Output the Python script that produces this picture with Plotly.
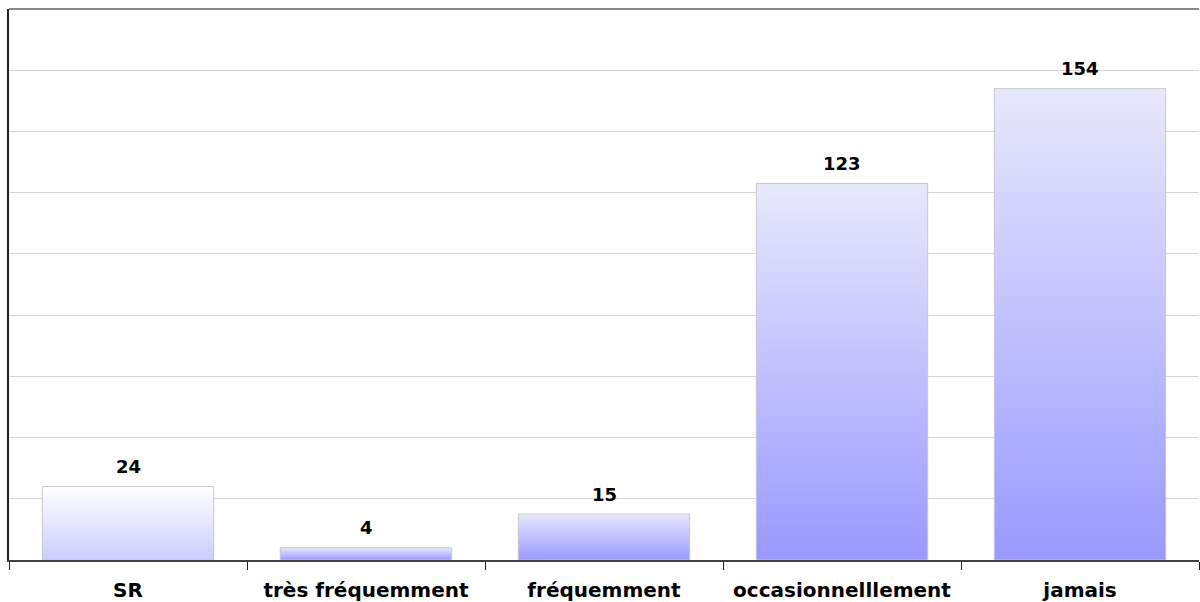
import plotly.graph_objects as go

categories = ["SR", "très fréquemment", "fréquemment", "occasionnelllement", "jamais"]
values = [24, 4, 15, 123, 154]
top_colors = ["#FFFFFF", "#E8E8FC", "#E8E8FC", "#E8E8FC", "#E8E8FC"]
bottom_colors = ["#CCCCFF", "#9999FF", "#9999FF", "#9999FF", "#9999FF"]

half_width = 0.36
FONT = "DejaVu Sans"

fig = go.Figure()
for i, (cat, v) in enumerate(zip(categories, values)):
    fig.add_trace(go.Scatter(
        x=[i - half_width, i - half_width, i + half_width, i + half_width, i - half_width],
        y=[0, v, v, 0, 0],
        mode="lines",
        fill="toself",
        fillgradient=dict(type="vertical",
                          colorscale=[[0, bottom_colors[i]], [1, top_colors[i]]],
                          start=0, stop=v),
        line=dict(color="#C8C8C8", width=1),
        name=cat,
        hoverinfo="skip",
        showlegend=False,
    ))
    fig.add_annotation(x=i, y=v, text=f"<b>{v}</b>", showarrow=False,
                       yshift=20, font=dict(family=FONT, size=18, color="black"))

fig.update_layout(
    width=1200, height=602,
    margin=dict(l=9, r=1, t=9, b=42),
    paper_bgcolor="white", plot_bgcolor="white",
    xaxis=dict(range=[-0.5, 4.5], tickmode="array", tickvals=list(range(len(categories))),
               ticktext=[f"<b>{c}</b>" for c in categories], ticks="", showgrid=False,
               zeroline=False, showline=True, linecolor="#404040", linewidth=2,
               tickfont=dict(family=FONT, size=20, color="black"),
               ticklabelstandoff=11,
               minor=dict(tickmode="array", tickvals=[-0.5, 0.5, 1.5, 2.5, 3.5, 4.5],
                          ticks="outside", ticklen=8, tickcolor="#202020", tickwidth=1,
                          showgrid=False),
               fixedrange=True),
    yaxis=dict(range=[0, 180], dtick=20, showticklabels=False, ticks="",
               showgrid=True, gridcolor="#D4D4D4", gridwidth=1, zeroline=False,
               showline=True, linecolor="#202020", linewidth=2, fixedrange=True),
)
fig.add_shape(type="line", xref="paper", yref="paper", x0=0, x1=1, y0=1, y1=1,
              line=dict(color="#888888", width=2))

fig.write_html("out.html", config={"displayModeBar": False},
               post_script="document.body.style.margin='0';")
